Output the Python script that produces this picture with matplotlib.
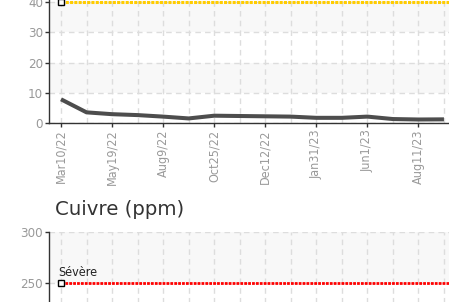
import matplotlib
matplotlib.use("Agg")
import matplotlib.pyplot as plt
from matplotlib import font_manager as fm
import numpy as np

# ---------------- data ----------------
dates = ["Mar10/22", "Apr14/22", "May19/22", "Jun28/22", "Aug9/22", "Sep15/22",
         "Oct25/22", "Nov17/22", "Dec12/22", "Jan5/23", "Jan31/23", "Mar22/23",
         "Jun1/23", "Jul6/23", "Aug11/23", "Sep20/23"]
top_values = [7.9, 3.6, 3.0, 2.7, 2.2, 1.6, 2.5, 2.4, 2.3, 2.2, 1.8, 1.8,
              2.2, 1.4, 1.25, 1.3]
top_limit = 40
top_ticks = [0, 10, 20, 30, 40, 50]
cu_title = "Cuivre (ppm)"
cu_limit = 250
cu_limit_label = "Sévère"
cu_ticks = [0, 50, 100, 150, 200, 250, 300]

# ---------------- fonts ----------------
names = {f.name for f in fm.fontManager.ttflist}
cond_fp = None
if "Liberation Sans Narrow" in names:
    cond_fp = fm.FontProperties(family="Liberation Sans Narrow")
else:
    for f in fm.fontManager.ttflist:
        if f.name == "DejaVu Sans" and f.stretch == "condensed" and f.style == "normal" and f.weight in (400, "normal"):
            cond_fp = fm.FontProperties(fname=f.fname)
            break
if cond_fp is None:
    cond_fp = fm.FontProperties(family="DejaVu Sans", stretch="condensed")

W, H = 449, 302
fig = plt.figure(figsize=(W / 100, H / 100), dpi=100)

TICK_COL = "#999999"
AX_COL = "#333333"
GRID_COL = "#dddddd"
BAND_COL = "#f8f8f8"

x = np.arange(len(dates))
px_per_cat = 25.53
x0_px = 61.0
left_px = 49.3
xmin = -(x0_px - left_px) / px_per_cat
xmax = (W - x0_px) / px_per_cat


def style_axes(ax, ticks, show_xlabels):
    ax.set_xlim(xmin, xmax)
    ax.set_ylim(ticks[0], ticks[-1])
    for sp in ["top", "right"]:
        ax.spines[sp].set_visible(False)
    ax.spines["left"].set_color(AX_COL)
    ax.spines["bottom"].set_color(AX_COL)
    ax.spines["left"].set_linewidth(1.0)
    ax.spines["bottom"].set_linewidth(1.0)
    ax.set_yticks(ticks)
    ax.set_yticklabels([str(t) for t in ticks], fontproperties=cond_fp, fontsize=9.5, color=TICK_COL)
    ax.set_xticks(x[::2])
    if show_xlabels:
        ax.set_xticklabels(dates[::2], rotation=90, fontproperties=cond_fp, fontsize=9, color=TICK_COL)
    else:
        ax.set_xticklabels([])
    ax.tick_params(axis="both", direction="out", length=3, width=1, color=AX_COL, pad=1.5)
    for t in ticks:
        ax.axhline(t, color=GRID_COL, lw=1, ls=(0, (4, 3)), zorder=0.5)
    for xi in x:
        ax.axvline(xi, color=GRID_COL, lw=1, ls=(0, (4, 3)), zorder=0.5)
    ax.set_facecolor("white")


# ---------------- top chart ----------------
ppu_top = (123.3 - 1.7) / 40.0
top_h = (top_ticks[-1] - top_ticks[0]) * ppu_top
axt = fig.add_axes([left_px / W, (H - 123.3) / H, (W - left_px) / W, top_h / H])
style_axes(axt, top_ticks, True)
for lo in top_ticks[1:-1:2]:
    axt.axhspan(lo, lo + 10, color=BAND_COL, zorder=0.2, lw=0)
axt.plot(x, top_values, color="#4d4d4d", lw=2.9, solid_capstyle="butt", solid_joinstyle="round", zorder=3)
axt.plot([x[0], xmax + 1], [top_limit, top_limit], color="#FFCC00", lw=2.2,
         ls=(0, (1, 0.4)), zorder=4)
axt.plot([x[0]], [top_limit], marker="s", ms=4, mfc="white", mec="black", mew=1, zorder=5, clip_on=False)

# ---------------- bottom chart ----------------
ppu_cu = (282.7 - 232.3) / 50.0
cu_h = (cu_ticks[-1] - cu_ticks[0]) * ppu_cu
cu_top_px = 232.3
axb = fig.add_axes([left_px / W, (H - cu_top_px - cu_h) / H, (W - left_px) / W, cu_h / H])
style_axes(axb, cu_ticks, False)
for lo in cu_ticks[-2::-2]:
    axb.axhspan(lo, lo + 50, color=BAND_COL, zorder=0.2, lw=0)
axb.plot([x[0], xmax + 1], [cu_limit, cu_limit], color="#FF0000", lw=2.0,
         ls=(0, (1, 0.4)), zorder=4)
axb.plot([x[0]], [cu_limit], marker="s", ms=4, mfc="white", mec="black", mew=1, zorder=5, clip_on=False)
axb.annotate(cu_limit_label, xy=(x[0], cu_limit), xytext=(-2, 3), textcoords="offset points",
             ha="left", va="bottom", fontproperties=cond_fp, fontsize=9, color="#222222")

fig.text(55 / W, (H - 215) / H, cu_title, fontsize=14.2, color="#333333",
         family="DejaVu Sans", ha="left", va="baseline")

fig.savefig("out.png", dpi=100)
